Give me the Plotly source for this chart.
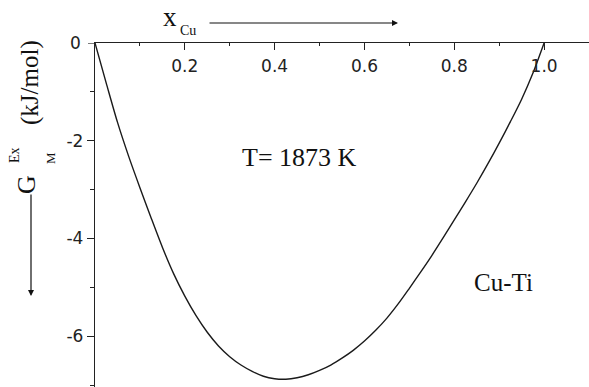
import plotly.graph_objects as go

# Excess Gibbs energy of mixing, Cu-Ti liquid at 1873 K
x_cu = [0.000, 0.025, 0.050, 0.075, 0.100, 0.125, 0.150, 0.175, 0.200, 0.225,
        0.250, 0.275, 0.300, 0.325, 0.350, 0.375, 0.400, 0.425, 0.450, 0.475,
        0.500, 0.525, 0.550, 0.575, 0.600, 0.625, 0.650, 0.675, 0.700, 0.725,
        0.750, 0.775, 0.800, 0.825, 0.850, 0.875, 0.900, 0.925, 0.950, 0.975,
        1.000]
g_ex = [0.00, -0.82, -1.62, -2.32, -2.96, -3.58, -4.18, -4.72, -5.18, -5.58,
        -5.92, -6.20, -6.42, -6.59, -6.72, -6.82, -6.87, -6.88, -6.85, -6.79,
        -6.70, -6.59, -6.45, -6.29, -6.10, -5.88, -5.63, -5.34, -5.02, -4.69,
        -4.35, -3.99, -3.62, -3.25, -2.87, -2.47, -2.05, -1.61, -1.15, -0.62,
        0.00]

x_ticks = [0.2, 0.4, 0.6, 0.8, 1.0]
x_ticktext = ["0.2", "0.4", "0.6", "0.8", "1.0"]
y_ticks = [0, -2, -4, -6]
y_ticktext = ["0", "-2", "-4", "-6"]

W, H = 589, 387
ML, MR, MT, MB = 95, 0, 43, 0
PW, PH = W - ML - MR, H - MT - MB


def px(xp, yp):
    """Convert a pixel position on the page to paper coordinates."""
    return (xp - ML) / PW, (H - MB - yp) / PH


fig = go.Figure()
fig.add_trace(go.Scatter(
    x=x_cu, y=g_ex, mode="lines",
    line=dict(color="#1a1a1a", width=1.4, shape="spline", smoothing=0.8),
    showlegend=False, hoverinfo="skip",
))

serif = "Liberation Serif, Times New Roman, serif"
sans = "DejaVu Sans, Arial, sans-serif"

annotations = []


def text(label, xp, yp, size, angle=0):
    xx, yy = px(xp, yp)
    annotations.append(dict(
        text=label, x=xx, y=yy, xref="paper", yref="paper",
        xanchor="center", yanchor="middle", showarrow=False,
        textangle=angle, font=dict(family=serif, size=size, color="#111"),
    ))


def arrow(x0, y0, x1, y1):
    xx, yy = px(x1, y1)
    annotations.append(dict(
        text="", x=xx, y=yy, xref="paper", yref="paper",
        ax=x0 - x1, ay=y0 - y1, showarrow=True,
        arrowhead=2, arrowsize=1.0, arrowwidth=1.2, arrowcolor="#111",
    ))


# vertical axis title: G_M^Ex (kJ/mol) with downward arrow
text("(kJ/mol)", 30, 83, 25, -90)
text("G", 27, 185, 26, -90)
text("Ex", 14, 155, 14, -90)
text("M", 50, 158, 13, -90)
arrow(31, 193, 31, 296)

# horizontal axis title: x_Cu with arrow to the right
text("x", 170, 17, 27)
text("Cu", 188, 31, 14)
arrow(208, 23, 398, 23)

# in-plot labels
text("T= 1873 K", 299, 157, 26)
text("Cu-Ti", 503, 282, 25)

# the y tick label and tick at the corner where both axes meet
annotations.append(dict(
    text=y_ticktext[0], x=(83 - ML) / PW, y=y_ticks[0], xref="paper", yref="y",
    xanchor="right", yanchor="middle", showarrow=False,
    font=dict(family=sans, size=17, color="#222"),
))
shapes = [dict(
    type="line", xref="paper", yref="y",
    x0=-7 / PW, x1=0, y0=y_ticks[0], y1=y_ticks[0],
    line=dict(color="#222", width=1.2),
)]

fig.update_layout(
    width=W, height=H,
    margin=dict(l=ML, r=MR, t=MT, b=MB, pad=0),
    paper_bgcolor="white", plot_bgcolor="white",
    annotations=annotations,
    shapes=shapes,
    xaxis=dict(
        range=[0, 1.1], side="top", showgrid=False, zeroline=False,
        showline=True, linecolor="#222", linewidth=1.3,
        tickmode="array", tickvals=x_ticks, ticktext=x_ticktext,
        ticks="inside", ticklen=7, tickwidth=1.2, tickcolor="#222",
        ticklabelposition="inside", ticklabelstandoff=10,
        tickfont=dict(family=sans, size=17, color="#222"),
        minor=dict(tickmode="linear", tick0=0, dtick=0.1, ticks="inside",
                   ticklen=3, tickwidth=1.0, tickcolor="#222"),
        fixedrange=True,
    ),
    yaxis=dict(
        range=[-7.04, 0], showgrid=False, zeroline=False,
        showline=True, linecolor="#222", linewidth=1.3,
        tickmode="array", tickvals=y_ticks[1:], ticktext=y_ticktext[1:],
        ticks="outside", ticklen=7, tickwidth=1.2, tickcolor="#222",
        tickfont=dict(family=sans, size=17, color="#222"),
        minor=dict(tickmode="linear", tick0=0, dtick=1, ticks="outside",
                   ticklen=4, tickwidth=1.0, tickcolor="#222"),
        fixedrange=True,
    ),
)

fig.write_html("out.html", config={"displayModeBar": False})
